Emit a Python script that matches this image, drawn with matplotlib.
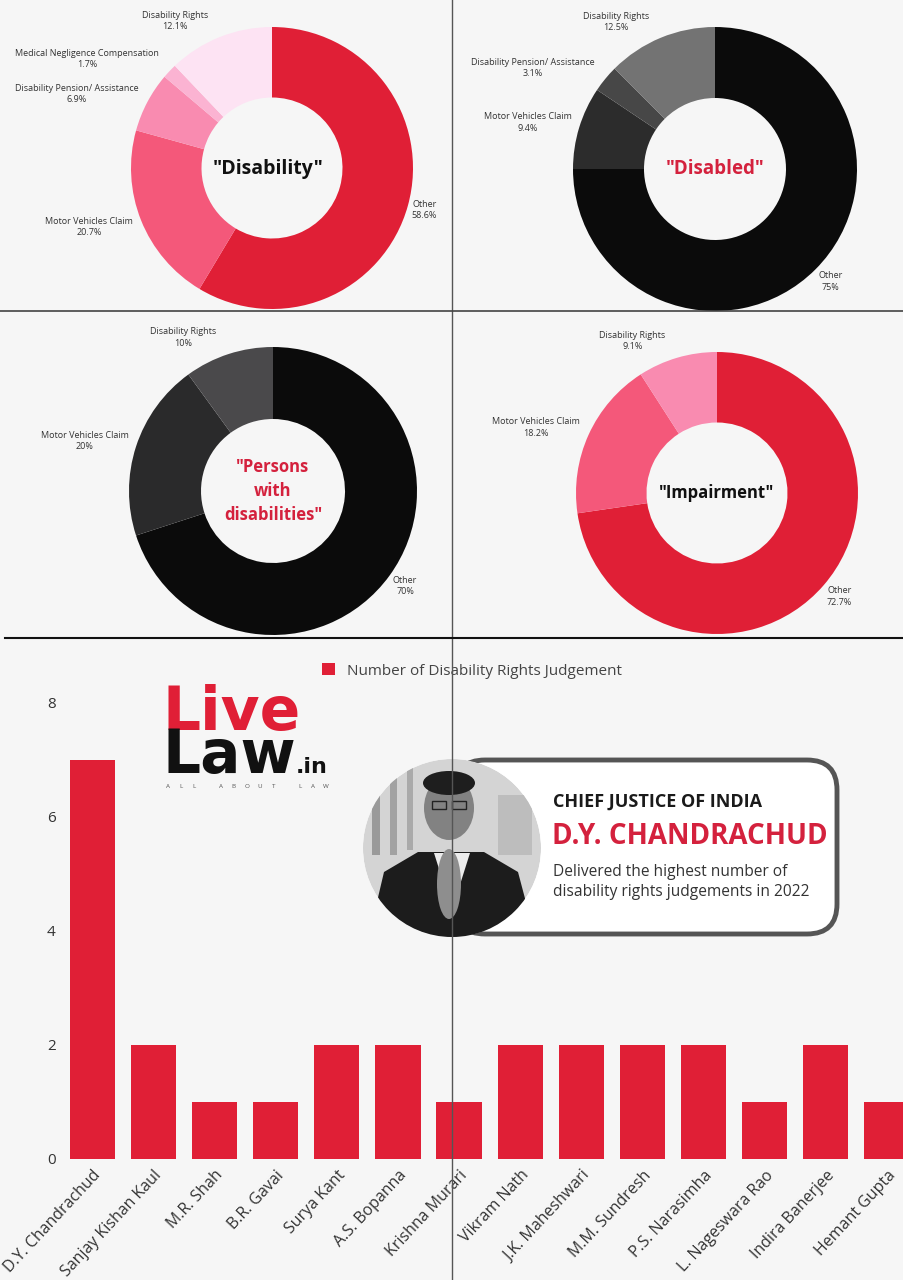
import matplotlib
matplotlib.use('Agg')
import matplotlib.pyplot as plt
import numpy as np
from matplotlib.patches import FancyBboxPatch, Circle, Ellipse, Polygon, Rectangle

# ---- data ----
d1_labels = ['Other', 'Motor Vehicles Claim', 'Disability Pension/ Assistance',
             'Medical Negligence Compensation', 'Disability Rights']
d1_values = [58.6, 20.7, 6.9, 1.7, 12.1]
d1_colors = ['#e01f36', '#f4587a', '#f98bb0', '#fbb3d2', '#fde3f3']

d2_labels = ['Other', 'Motor Vehicles Claim', 'Disability Pension/ Assistance', 'Disability Rights']
d2_values = [75, 9.4, 3.1, 12.5]
d2_colors = ['#0b0b0b', '#2c2c2c', '#474747', '#737373']

d3_labels = ['Other', 'Motor Vehicles Claim', 'Disability Rights']
d3_values = [70, 20, 10]
d3_colors = ['#0b0b0b', '#2a2a2b', '#4a494b']

d4_labels = ['Other', 'Motor Vehicles Claim', 'Disability Rights']
d4_values = [72.7, 18.2, 9.1]
d4_colors = ['#e01f36', '#f4587a', '#f98bb0']

judges = ['D.Y. Chandrachud', 'Sanjay Kishan Kaul', 'M.R. Shah', 'B.R. Gavai', 'Surya Kant',
          'A.S. Bopanna', 'Krishna Murari', 'Vikram Nath', 'J.K. Maheshwari', 'M.M. Sundresh',
          'P.S. Narasimha', 'L. Nageswara Rao', 'Indira Banerjee', 'Hemant Gupta']
judgements = [7, 2, 1, 1, 2, 2, 1, 2, 2, 2, 2, 1, 2, 1]

RED = '#e01f36'
TITLE_RED = '#d4213d'
BG = '#f6f6f6'
W, H = 904, 1280

plt.rcParams['font.family'] = ['Open Sans', 'DejaVu Sans']

fig = plt.figure(figsize=(W / 100, H / 100), dpi=100, facecolor=BG)


def donut_axes(cx, cy, r):
    return fig.add_axes([(cx - r) / W, 1 - (cy + r) / H, 2 * r / W, 2 * r / H])


def donut(ax, values, labels, colors):
    wedges, _ = ax.pie(values, colors=colors, startangle=90, counterclock=False,
                       radius=1, wedgeprops=dict(width=0.5, linewidth=0))
    ax.set_xlim(-1, 1)
    ax.set_ylim(-1, 1)
    for w, lab, v in zip(wedges, labels, values):
        ang = np.deg2rad((w.theta1 + w.theta2) / 2)
        dx, dy = np.cos(ang), np.sin(ang)
        # push left-side labels a bit further out, like the original layout
        shift = dx * 3 if dx > 0 else dx * 3 - 8 * abs(dy)
        ax.annotate(f'{lab}\n{v:g}%', xy=(dx, dy), xytext=(shift, dy * 12.5),
                    textcoords='offset points', ha='left' if dx > 0 else 'right',
                    va='center', multialignment='center', fontsize=6.5,
                    color='#333333', linespacing=1.35, annotation_clip=False)


ax1 = donut_axes(272, 168, 141)
donut(ax1, d1_values, d1_labels, d1_colors)
ax1.text(-0.03, -0.01, '"Disability"', ha='center', va='center', fontsize=14,
         fontweight='bold', color='#111111')

ax2 = donut_axes(715, 169, 142)
donut(ax2, d2_values, d2_labels, d2_colors)
ax2.text(0, 0, '"Disabled"', ha='center', va='center', fontsize=13.5, fontweight='bold',
         color=TITLE_RED)

ax3 = donut_axes(273, 491, 144)
donut(ax3, d3_values, d3_labels, d3_colors)
ax3.text(0, 0, '"Persons\nwith\ndisabilities"', ha='center', va='center', fontsize=12,
         fontweight='bold', color=TITLE_RED, linespacing=1.45)

ax4 = donut_axes(717, 493, 141)
donut(ax4, d4_values, d4_labels, d4_colors)
ax4.text(0, 0, '"Impairment"', ha='center', va='center', fontsize=12, fontweight='bold',
         color='#111111')

# ---- bar chart ----
axb = fig.add_axes([68 / W, 1 - 1159 / H, (W - 68) / W, (1159 - 703) / H])
axb.patch.set_alpha(0)
x = np.arange(len(judges))
bars = axb.bar(x, judgements, width=0.74, color=RED, zorder=2)
axb.set_xlim(-0.40, 13.28)
axb.set_ylim(0, 8)
axb.set_yticks([0, 2, 4, 6, 8])
axb.set_xticks(x)
axb.set_xticklabels(judges, rotation=47, ha='right', rotation_mode='anchor')
axb.tick_params(axis='y', length=0, pad=9, labelsize=11, labelcolor='#333333')
axb.tick_params(axis='x', length=0, pad=6, labelsize=11.5, labelcolor='#333333')
for s in axb.spines.values():
    s.set_visible(False)
axb.legend([bars], ['Number of Disability Rights Judgement'], loc='center',
           bbox_to_anchor=(472 / W, 1 - 671 / H), bbox_transform=fig.transFigure,
           frameon=False, fontsize=11, handlelength=0.8, handleheight=0.8,
           handletextpad=0.8, labelcolor='#444444')

# ---- overlay: separators, logo, card ----
ov = fig.add_axes([0, 0, 1, 1], zorder=10)
ov.set_xlim(0, W)
ov.set_ylim(H, 0)
ov.axis('off')
ov.patch.set_alpha(0)

# logo
ov.text(163, 730, 'Live', fontsize=43, fontweight='bold', color=RED, family='DejaVu Sans',
        ha='left', va='baseline')
ov.text(163, 773, 'Law', fontsize=43, fontweight='bold', color='#111111', family='DejaVu Sans',
        ha='left', va='baseline')
ov.text(296, 773, '.in', fontsize=16, fontweight='bold', color='#111111', family='DejaVu Sans',
        ha='left', va='baseline')
for ch, px in zip('ALL ABOUT LAW', np.linspace(168, 326, 13)):
    ov.text(px, 787, ch, fontsize=4.5, color='#555555', ha='center', va='center')

# card
card = FancyBboxPatch((455, 760), 382, 174, boxstyle='round,pad=0,rounding_size=30',
                      fc='white', ec='#555555', lw=3.5, zorder=2)
ov.add_patch(card)
ov.text(553, 802, 'CHIEF JUSTICE OF INDIA', fontsize=13, fontweight='bold', color='#1a1a1a',
        va='center', ha='left', zorder=3)
ov.text(552, 837, 'D.Y. CHANDRACHUD', fontsize=20, fontweight='bold', color=TITLE_RED,
        va='center', ha='left', zorder=3)
ov.text(553, 872, 'Delivered the highest number of', fontsize=11.2, color='#333333',
        va='center', ha='left', zorder=3)
ov.text(553, 892, 'disability rights judgements in 2022', fontsize=11.2, color='#333333',
        va='center', ha='left', zorder=3)

# portrait (stylised, greyscale)
clip = Circle((452, 848), 89, transform=ov.transData)
photo = [
    Circle((452, 848), 89, fc='#d4d4d4', ec='none'),
    Rectangle((372, 760), 8, 95, fc='#9a9a9a', ec='none'),
    Rectangle((390, 760), 7, 95, fc='#a2a2a2', ec='none'),
    Rectangle((407, 760), 6, 90, fc='#aaaaaa', ec='none'),
    Rectangle((498, 795), 34, 60, fc='#bdbdbd', ec='none'),
    Polygon([(368, 940), (384, 872), (418, 852), (484, 852), (518, 872), (536, 940)],
            fc='#1c1c1c', ec='none'),
    Polygon([(434, 853), (452, 910), (470, 853)], fc='#ececec', ec='none'),
    Ellipse((449, 808), 50, 64, fc='#828282', ec='none'),
    Ellipse((449, 783), 52, 24, fc='#1e1e1e', ec='none'),
    Ellipse((449, 884), 24, 70, fc='#8e8e8e', ec='none'),
    Rectangle((432, 801), 14, 8, fc='none', ec='#222222', lw=1),
    Rectangle((452, 801), 14, 8, fc='none', ec='#222222', lw=1),
]
for p in photo:
    p.set_zorder(4)
    ov.add_patch(p)
    p.set_clip_path(clip)

# separator lines
ov.plot([452, 452], [0, H], color='#555555', lw=1, zorder=6)
ov.plot([0, W], [311, 311], color='#444444', lw=1.2, zorder=6)
ov.plot([5, W], [638, 638], color='#111111', lw=1.5, zorder=6)

fig.savefig('out.png', dpi=100, facecolor=BG)
